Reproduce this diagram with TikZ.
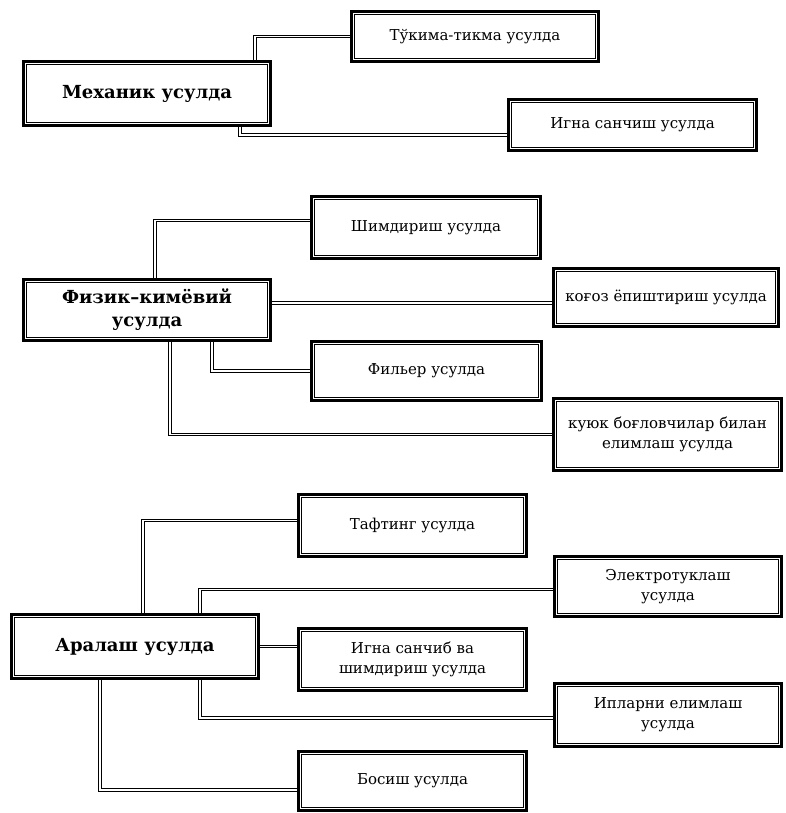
\documentclass[tikz,border=0pt]{standalone}
\usepackage{fontspec}
\setmainfont{DejaVu Serif}
\usetikzlibrary{positioning}

\begin{document}
\begin{tikzpicture}[
    x=1pt, y=-1pt,
    method/.style={
        draw,
        line width=3.2pt,
        fill=white,
        align=center,
        inner sep=2pt,
        font=\fontsize{15}{20}\selectfont
    },
    group/.style={
        method,
        font=\fontsize{18}{23}\selectfont\bfseries
    },
    boxsize/.style 2 args={
        minimum width={#1pt-3.2pt},
        minimum height={#2pt-3.2pt}
    },
    inner frame/.style={line width=1pt},
    link/.style={double=white, double distance=1.1pt, line width=1.4pt}
]
\useasboundingbox (0,0) rectangle (785,813);

\node[group, boxsize={250}{67}] (mechanic) at (147,93.5) {Механик усулда};
\node[method, boxsize={250}{53}] (tukima) at (475,36.5) {Тўкима-тикма усулда};
\node[method, boxsize={251}{54}] (needle) at (632.5,125) {Игна санчиш усулда};

\node[group, boxsize={250}{64}] (physchem) at (147,310) {Физик–кимёвий\\усулда};
\node[method, boxsize={232}{65}] (soak) at (426,227.5) {Шимдириш усулда};
\node[method, boxsize={228}{61}] (paper) at (666,297.5) {коғоз ёпиштириш усулда};
\node[method, boxsize={233}{62}] (spinneret) at (426.5,371) {Фильер усулда};
\node[method, boxsize={231}{75}] (binder) at (667.5,434.5) {куюк боғловчилар билан\\елимлаш усулда};

\node[group, boxsize={250}{67}] (mixed) at (135,646.5) {Аралаш усулда};
\node[method, boxsize={231}{65}] (tufting) at (412.5,525.5) {Тафтинг усулда};
\node[method, boxsize={230}{63}] (electro) at (668,586.5) {Электротуклаш\\усулда};
\node[method, boxsize={231}{65}] (needlesoak) at (412.5,659.5) {Игна санчиб ва\\шимдириш усулда};
\node[method, boxsize={230}{66}] (threads) at (668,715) {Ипларни елимлаш\\усулда};
\node[method, boxsize={231}{62}] (press) at (412.5,781) {Босиш усулда};

\foreach \n in {mechanic,tukima,needle,physchem,soak,paper,spinneret,binder,
                mixed,tufting,electro,needlesoak,threads,press}
    \draw[inner frame] ([shift={(4.6pt,-4.6pt)}]\n.north west)
        rectangle ([shift={(-4.6pt,4.6pt)}]\n.south east);

\draw[link] ([xshift=108pt]mechanic.north) |- (tukima.west);
\draw[link] ([xshift=93pt]mechanic.south) |- ([yshift=-10pt]needle.west);

\draw[link] ([xshift=8pt]physchem.north) |- ([yshift=7pt]soak.west);
\draw[link] ([yshift=7pt]physchem.east) -- ([yshift=7pt]physchem.east -| paper.west);
\draw[link] ([xshift=65pt]physchem.south) |- (spinneret.west);
\draw[link] ([xshift=23pt]physchem.south) |- (binder.west);

\draw[link] ([xshift=8pt]mixed.north) |- ([yshift=5pt]tufting.west);
\draw[link] ([xshift=65pt]mixed.north) |- ([yshift=-3pt]electro.west);
\draw[link] (mixed.east) -- (mixed.east -| needlesoak.west);
\draw[link] ([xshift=65pt]mixed.south) |- ([yshift=-3pt]threads.west);
\draw[link] ([xshift=-35pt]mixed.south) |- ([yshift=-9pt]press.west);
\end{tikzpicture}
\end{document}
